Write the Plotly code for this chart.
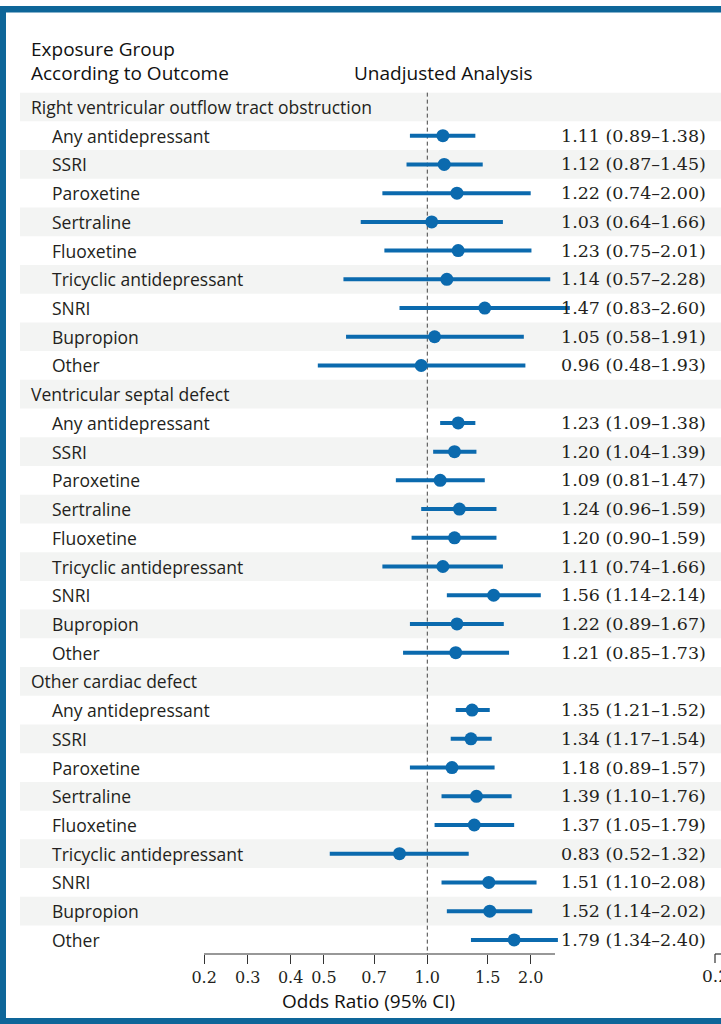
import plotly.graph_objects as go

# ---- data ---------------------------------------------------------------
outcomes = [
    "Right ventricular outflow tract obstruction",
    "Ventricular septal defect",
    "Other cardiac defect",
]
exposures = [
    "Any antidepressant", "SSRI", "Paroxetine", "Sertraline", "Fluoxetine",
    "Tricyclic antidepressant", "SNRI", "Bupropion", "Other",
]

rvoto_or = [1.11, 1.12, 1.22, 1.03, 1.23, 1.14, 1.47, 1.05, 0.96]
rvoto_lo = [0.89, 0.87, 0.74, 0.64, 0.75, 0.57, 0.83, 0.58, 0.48]
rvoto_hi = [1.38, 1.45, 2.00, 1.66, 2.01, 2.28, 2.60, 1.91, 1.93]

vsd_or = [1.23, 1.20, 1.09, 1.24, 1.20, 1.11, 1.56, 1.22, 1.21]
vsd_lo = [1.09, 1.04, 0.81, 0.96, 0.90, 0.74, 1.14, 0.89, 0.85]
vsd_hi = [1.38, 1.39, 1.47, 1.59, 1.59, 1.66, 2.14, 1.67, 1.73]

other_or = [1.35, 1.34, 1.18, 1.39, 1.37, 0.83, 1.51, 1.52, 1.79]
other_lo = [1.21, 1.17, 0.89, 1.10, 1.05, 0.52, 1.10, 1.14, 1.34]
other_hi = [1.52, 1.54, 1.57, 1.76, 1.79, 1.32, 2.08, 2.02, 2.40]

tick_vals = [0.224, 0.3, 0.4, 0.5, 0.7, 1.0, 1.5, 2.0]
tick_text = ["0.2", "0.3", "0.4", "0.5", "0.7", "1.0", "1.5", "2.0"]

# ---- layout constants ----------------------------------------------------
W, H = 721, 1024
BLUE = "#0b6aae"
FRAME = "#0e6699"
INK = "#231f20"
SHADE = "#f3f4f3"
LABEL_FONT = "Open Sans"
NUM_FONT = "DejaVu Serif"

PX_ONE = 427.3          # pixel of OR = 1.0
PX_DECADE = 343.5       # pixels per decade
ROW0_PX, ROW_PITCH = 107.0, 28.72
AXIS_PX = 954.0

x_range = [(0 - PX_ONE) / PX_DECADE, (W - PX_ONE) / PX_DECADE]
y_bottom = (AXIS_PX - ROW0_PX) / ROW_PITCH
y_top = (0 - ROW0_PX) / ROW_PITCH


def px_x(p):
    return p / W


def px_y(p):
    return 1 - p / H


def label(x, y, text, size, font=LABEL_FONT, anchor="left", yref="y",
          color=INK):
    return dict(xref="paper", yref=yref, x=x, y=y, text=text,
                showarrow=False, xanchor=anchor, yanchor="middle",
                font=dict(family=font, size=size, color=color))


# ---- assemble rows -------------------------------------------------------
groups = [(rvoto_or, rvoto_lo, rvoto_hi), (vsd_or, vsd_lo, vsd_hi),
          (other_or, other_lo, other_hi)]

rows = []  # (kind, label, or, lo, hi)
for name, (o, lo, hi) in zip(outcomes, groups):
    rows.append(("head", name, None, None, None))
    for lab, a, b, c in zip(exposures, o, lo, hi):
        rows.append(("item", lab, a, b, c))

fig = go.Figure()

shapes = []
annotations = []

# alternating row bands
for i in range(len(rows)):
    if i % 2 == 0:
        shapes.append(dict(type="rect", xref="paper", yref="y",
                           x0=px_x(20), x1=1, y0=i - 0.5, y1=i + 0.5,
                           fillcolor=SHADE, line=dict(width=0), layer="below"))

# reference line at OR = 1
shapes.append(dict(type="line", xref="x", yref="y", x0=1, x1=1,
                   y0=-0.5, y1=y_bottom,
                   line=dict(color="#444444", width=1, dash="4px,3px"),
                   layer="below"))

# estimates with confidence intervals
ys, ors, plus, minus = [], [], [], []
for i, (kind, lab, o, lo, hi) in enumerate(rows):
    if kind == "head":
        annotations.append(label(px_x(29), i, lab, 17.5))
        continue
    annotations.append(label(px_x(50), i, lab, 17.5))
    annotations.append(label(px_x(708), i,
                             f"{o:.2f} ({lo:.2f}\u2013{hi:.2f})", 17.5,
                             font=NUM_FONT, anchor="right"))
    ys.append(i)
    ors.append(o)
    plus.append(hi - o)
    minus.append(o - lo)

fig.add_trace(go.Scatter(
    x=ors, y=ys, mode="markers",
    marker=dict(color=BLUE, size=13),
    error_x=dict(type="data", symmetric=False, array=plus, arrayminus=minus,
                 color=BLUE, thickness=4, width=0),
    hoverinfo="skip", showlegend=False, cliponaxis=False,
))

# column headings, axis title and the neighbouring panel's first tick label
annotations += [
    label(px_x(29), px_y(49), "Exposure Group", 19, yref="paper", color="#111111"),
    label(px_x(29), px_y(73), "According to Outcome", 19, yref="paper", color="#111111"),
    label(px_x(444), px_y(73), "Unadjusted Analysis", 19, anchor="center",
          yref="paper", color="#111111"),
    label(px_x(368), px_y(1001), "Odds Ratio (95% CI)", 19, anchor="center",
          yref="paper", color="#111111"),
    label(px_x(715), px_y(976), "0.2", 17, font=NUM_FONT, anchor="center",
          yref="paper"),
]

# axis line, neighbouring axis stub, frame
shapes += [
    dict(type="line", xref="paper", yref="paper", x0=px_x(204), x1=px_x(555),
         y0=px_y(AXIS_PX), y1=px_y(AXIS_PX), line=dict(color="#333333", width=1.2)),
    dict(type="line", xref="paper", yref="paper", x0=px_x(715), x1=1,
         y0=px_y(AXIS_PX), y1=px_y(AXIS_PX), line=dict(color="#333333", width=1.2)),
    dict(type="line", xref="paper", yref="paper", x0=px_x(715), x1=px_x(715),
         y0=px_y(AXIS_PX), y1=px_y(AXIS_PX + 9), line=dict(color="#333333", width=1.2)),
    dict(type="rect", xref="paper", yref="paper", x0=0, x1=1,
         y0=px_y(6), y1=px_y(12.5), fillcolor=FRAME, line=dict(width=0)),
    dict(type="rect", xref="paper", yref="paper", x0=0, x1=px_x(6),
         y0=0, y1=px_y(6), fillcolor=FRAME, line=dict(width=0)),
    dict(type="rect", xref="paper", yref="paper", x0=0, x1=1,
         y0=0, y1=px_y(1018), fillcolor=FRAME, line=dict(width=0)),
]

fig.update_layout(
    width=W, height=H,
    margin=dict(l=0, r=0, t=0, b=0),
    paper_bgcolor="white", plot_bgcolor="rgba(0,0,0,0)",
    shapes=shapes, annotations=annotations,
    xaxis=dict(type="log", range=x_range, domain=[0, 1],
               tickvals=tick_vals, ticktext=tick_text,
               ticks="outside", ticklen=9, tickwidth=1.2, tickcolor="#333333",
               showline=False, showgrid=False, zeroline=False,
               tickfont=dict(family=NUM_FONT, size=16, color=INK)),
    yaxis=dict(range=[y_bottom, y_top], domain=[1 - AXIS_PX / H, 1],
               showticklabels=False, showgrid=False, zeroline=False,
               showline=False, ticks=""),
)

fig.write_html("out.html")
